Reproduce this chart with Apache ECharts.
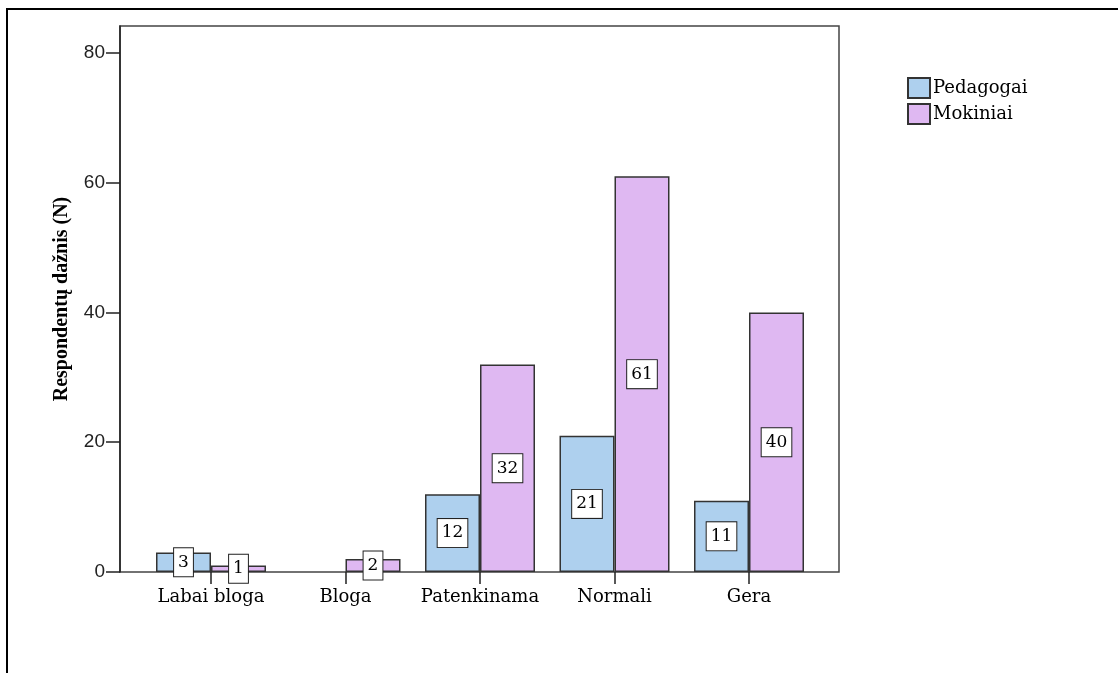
<!DOCTYPE html>
<html>
<head>
<meta charset="utf-8">
<script src="https://cdn.jsdelivr.net/npm/echarts@6/dist/echarts.min.js"></script>
<style>html,body{margin:0;padding:0;background:#fff;}#c{width:1118px;height:673px;}</style>
</head>
<body>
<div id="c"></div>
<script>
const categories = ['Labai bloga', 'Bloga', 'Patenkinama', 'Normali', 'Gera'];
const pedagogai = [3, 0, 12, 21, 11];
const mokiniai = [1, 2, 32, 61, 40];
const yTicks = [0, 20, 40, 60, 80];
const seriesNames = ['Pedagogai', 'Mokiniai'];

const YMAX = 84.16;
const serif = 'DejaVu Serif';

function toData(arr) {
  return arr.map(v => v === 0 ? { value: v, label: { show: false }, itemStyle: { borderWidth: 0 } } : v);
}
const labelStyle = {
  show: true,
  position: 'inside',
  color: '#000',
  fontFamily: serif,
  fontSize: 17,
  backgroundColor: '#fff',
  borderColor: '#222',
  borderWidth: 1,
  padding: [6, 4, 5, 4]
};

const chart = echarts.init(document.getElementById('c'), null, { renderer: 'canvas' });
chart.setOption({
  animation: false,
  backgroundColor: '#fff',
  graphic: [{
    type: 'rect', silent: true, z: -1,
    shape: { x: 7, y: 9, width: 1300, height: 1000 },
    style: { fill: 'none', stroke: '#000', lineWidth: 2 }
  }],
  legend: {
    orient: 'vertical', left: 902, top: 72,
    itemWidth: 22, itemHeight: 20, itemGap: 4,
    icon: 'rect',
    data: seriesNames,
    textStyle: { fontFamily: serif, fontSize: 18, color: '#000', padding: [0, 0, 0, -2] }
  },
  grid: [
    { left: 120, right: 279, top: 26, bottom: 101, show: true, borderColor: '#444', borderWidth: 1.5, backgroundColor: 'transparent' },
    { left: 143.75, right: 301.75, top: 26, bottom: 101 }
  ],
  xAxis: [
    { type: 'category', gridIndex: 0, data: categories, show: false },
    {
      type: 'category', gridIndex: 1, data: categories,
      axisLine: { show: false },
      axisTick: { show: true, interval: 0, alignWithLabel: true, length: 12, lineStyle: { color: '#222', width: 1.5 } },
      axisLabel: { interval: 0, margin: 16, fontFamily: serif, fontSize: 18, color: '#000' }
    }
  ],
  yAxis: [
    {
      type: 'value', gridIndex: 0, min: 0, max: YMAX, interval: 20,
      name: 'Respondentų dažnis (N)', nameLocation: 'middle', nameGap: 48,
      nameTextStyle: { fontFamily: 'Liberation Serif', fontWeight: 'bold', fontSize: 20, color: '#000' },
      splitLine: { show: false },
      axisLine: { show: true, lineStyle: { color: '#222', width: 1.5 } },
      axisTick: { show: true, length: 14, customValues: yTicks, lineStyle: { color: '#222', width: 1.5 } },
      axisLabel: { customValues: yTicks, margin: 15, fontFamily: 'Liberation Sans', fontSize: 19, color: '#222' }
    },
    { type: 'value', gridIndex: 1, min: 0, max: YMAX, show: false, splitLine: { show: false } }
  ],
  series: [
    {
      name: seriesNames[0], type: 'bar', xAxisIndex: 1, yAxisIndex: 1,
      barWidth: 55, barGap: '0%',
      itemStyle: { color: '#AED0EE', borderColor: '#333', borderWidth: 1.5 },
      label: labelStyle,
      data: toData(pedagogai)
    },
    {
      name: seriesNames[1], type: 'bar', xAxisIndex: 1, yAxisIndex: 1,
      barWidth: 55, barGap: '0%',
      itemStyle: { color: '#DFB8F2', borderColor: '#333', borderWidth: 1.5 },
      label: labelStyle,
      data: toData(mokiniai)
    }
  ]
});
</script>
</body>
</html>
